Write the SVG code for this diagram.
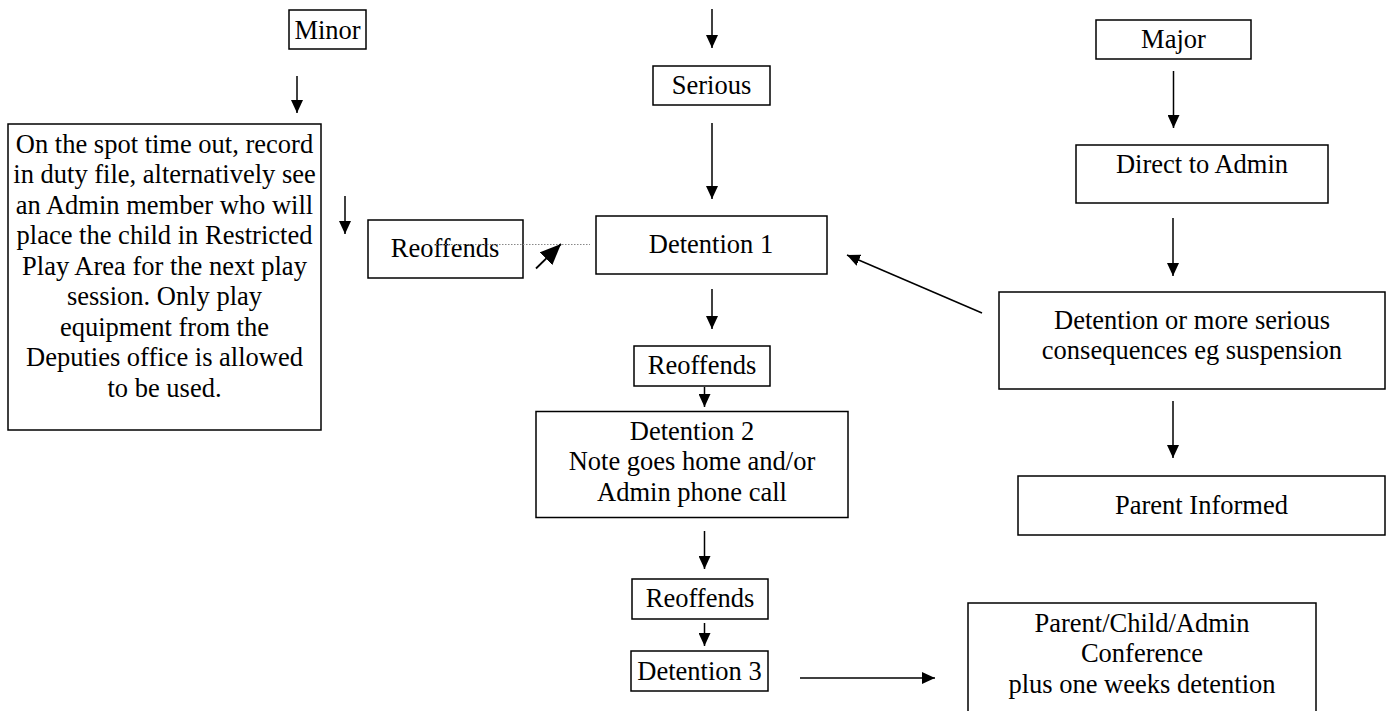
<svg xmlns="http://www.w3.org/2000/svg" width="1389" height="711" viewBox="0 0 1389 711">
<style>
.box{fill:#fff;stroke:#000;stroke-width:1.5}
.t{font-family:"Liberation Serif","Times New Roman",serif;font-size:26.5px;fill:#000;text-anchor:middle}
.c{stroke:#000;stroke-width:1.5;fill:none;marker-end:url(#ah)}
</style>
<defs>
<marker id="ah" markerUnits="userSpaceOnUse" markerWidth="14" markerHeight="12" refX="13" refY="6" orient="auto"><path d="M0,0 L13,6 L0,12 z" fill="#000"/></marker>
<marker id="ahb" markerUnits="userSpaceOnUse" markerWidth="22" markerHeight="18" refX="21" refY="9" orient="auto"><path d="M0,0 L21,9 L0,18 z" fill="#000"/></marker>
</defs>
<g id="minor"><rect class="box" x="289" y="10" width="77" height="39"/><text class="t" x="327.5" y="39">Minor</text></g>
<g id="minor-action"><rect class="box" x="8" y="124" width="313" height="306"/>
<text class="t" x="164.5" y="152.5">On the spot time out, record</text>
<text class="t" x="164.5" y="183">in duty file, alternatively see</text>
<text class="t" x="164.5" y="213.5">an Admin member who will</text>
<text class="t" x="164.5" y="244">place the child in Restricted</text>
<text class="t" x="164.5" y="274.5">Play Area for the next play</text>
<text class="t" x="164.5" y="305">session. Only play</text>
<text class="t" x="164.5" y="335.5">equipment from the</text>
<text class="t" x="164.5" y="366">Deputies office is allowed</text>
<text class="t" x="164.5" y="396.5">to be used.</text>
</g>
<g id="reoffends-left"><rect class="box" x="368" y="220" width="155" height="58"/><text class="t" x="445" y="257">Reoffends</text></g>
<g id="serious"><rect class="box" x="653" y="66" width="117" height="39"/><text class="t" x="711.5" y="94">Serious</text></g>
<g id="detention1"><rect class="box" x="596" y="216" width="231" height="58"/><text class="t" x="711" y="253">Detention 1</text></g>
<g id="reoffends1"><rect class="box" x="634" y="346" width="136" height="40"/><text class="t" x="702" y="373.5">Reoffends</text></g>
<g id="detention2"><rect class="box" x="536" y="411.5" width="312" height="106"/>
<text class="t" x="692" y="440">Detention 2</text>
<text class="t" x="692" y="470">Note goes home and/or</text>
<text class="t" x="692" y="500.5">Admin phone call</text></g>
<g id="reoffends2"><rect class="box" x="632" y="579" width="136" height="40"/><text class="t" x="700" y="607">Reoffends</text></g>
<g id="detention3"><rect class="box" x="631" y="651" width="137" height="40"/><text class="t" x="699.5" y="679.5">Detention 3</text></g>
<g id="major"><rect class="box" x="1096" y="20" width="155" height="39"/><text class="t" x="1173.5" y="48">Major</text></g>
<g id="direct-admin"><rect class="box" x="1076" y="145" width="252" height="58"/><text class="t" x="1202" y="173">Direct to Admin</text></g>
<g id="major-consequence"><rect class="box" x="999" y="292" width="386" height="97"/>
<text class="t" x="1192" y="328.5">Detention or more serious</text>
<text class="t" x="1192" y="359">consequences eg suspension</text></g>
<g id="parent-informed"><rect class="box" x="1018" y="476" width="367" height="59"/><text class="t" x="1201.5" y="513.5">Parent Informed</text></g>
<g id="conference"><rect class="box" x="968" y="603" width="348" height="120"/>
<text class="t" x="1142" y="632">Parent/Child/Admin</text>
<text class="t" x="1142" y="662">Conference</text>
<text class="t" x="1142" y="693">plus one weeks detention</text></g>
<g id="connectors">
<line class="c" x1="712" y1="9" x2="712" y2="48"/>
<line class="c" x1="297" y1="76" x2="297" y2="113"/>
<line class="c" x1="345" y1="196" x2="345" y2="234"/>
<line class="c" x1="712" y1="123" x2="712" y2="199"/>
<line class="c" x1="712" y1="289" x2="712" y2="329"/>
<line class="c" x1="704.5" y1="387" x2="704.5" y2="407"/>
<line class="c" x1="704.5" y1="531" x2="704.5" y2="569"/>
<line class="c" x1="704.5" y1="623" x2="704.5" y2="646"/>
<line class="c" x1="800" y1="678" x2="935" y2="678"/>
<line class="c" x1="1173.5" y1="71" x2="1173.5" y2="128"/>
<line class="c" x1="1173" y1="218" x2="1173" y2="276"/>
<line class="c" x1="1173" y1="401" x2="1173" y2="458"/>
<line class="c" x1="982" y1="313" x2="847" y2="255"/>
<line x1="436" y1="244.5" x2="590" y2="244.5" stroke="#888" stroke-width="1" stroke-dasharray="1.5,1.5"/>
<line x1="536" y1="268.5" x2="561" y2="244" stroke="#000" stroke-width="1.8" marker-end="url(#ahb)"/>
</g>
</svg>
